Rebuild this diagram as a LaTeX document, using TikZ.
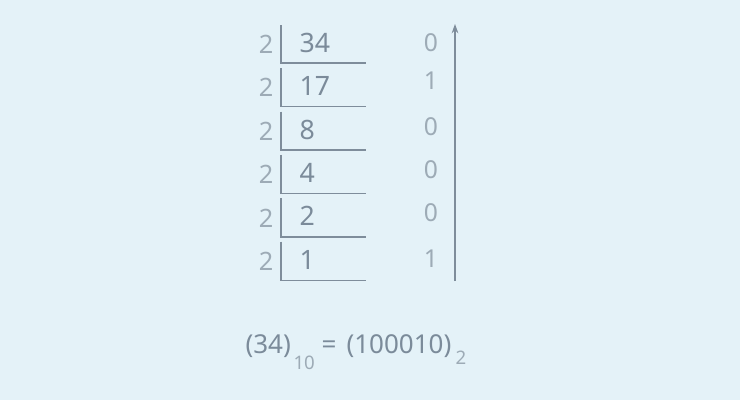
\documentclass[tikz,border=0pt]{standalone}
\usepackage{fontspec}
\setmainfont{Noto Sans}
\usetikzlibrary{arrows.meta}
\definecolor{bgblue}{HTML}{E4F2F8}
\definecolor{numgrey}{HTML}{7B8B9A}
\definecolor{softgrey}{HTML}{9DABB6}
\definecolor{rulegrey}{HTML}{7E8D9B}
\tikzset{every picture/.style={line width=0.75pt}}
\tikzset{
  divisor/.style={inner sep=0pt, text=softgrey, font=\fontsize{19}{22}\selectfont},
  dividend/.style={inner sep=0pt, anchor=west, text=numgrey, font=\fontsize{20}{24}\selectfont},
  remainder/.style={inner sep=0pt, text=softgrey, font=\fontsize{18.5}{22}\selectfont},
  bracket/.style={draw=rulegrey, line width=1.3pt},
  eqmain/.style={inner sep=0pt, anchor=base west, text=numgrey, font=\fontsize{19.5}{24}\selectfont},
  eqsub/.style={inner sep=0pt, anchor=base west, text=softgrey, font=\fontsize{14}{18}\selectfont}
}
\begin{document}
\begin{tikzpicture}[x=0.75pt,y=0.75pt,yscale=-1,xscale=1]
%background and page size
\fill[bgblue] (0,0) rectangle (740,400);
\useasboundingbox (0,0) rectangle (740,400);

%Division rows
\foreach \num/\rem/\ry [count=\i from 0] in {34/0/43,17/1/81,8/0/127,4/0/170,2/0/213,1/1/259} {
  \node[divisor] (two\i) at (266,43.5*\i+44) {2};
  \node[dividend] (num\i) at (299,43.3*\i+43) {\num};
  \node[remainder] (rem\i) at (431,\ry) {\rem};
  \coordinate (bartop\i) at (281,43.3*\i+25);
  \coordinate (barbot\i) at (281,43.5*\i+63);
  \coordinate (barend\i) at (366,43.5*\i+63);
  \draw[bracket] (bartop\i) -- (barbot\i) -- (barend\i);
}

%Arrow reading the remainders upwards
\coordinate (arrbot) at (455,281);
\coordinate (arrtop) at (455,24);
\draw[draw=rulegrey, line width=0.9pt, -{Stealth[length=7pt,width=5pt]}] (arrbot) -- (arrtop);

%Result
\node[eqmain] (lhs) at (245,353) {(34)};
\node[eqsub] (lhsbase) at (293,369) {10};
\node[eqmain] (equals) at (321,353) {=};
\node[eqmain] (rhs) at (346,353) {(100010)};
\node[eqsub] (rhsbase) at (455,364) {2};

\end{tikzpicture}
\end{document}
